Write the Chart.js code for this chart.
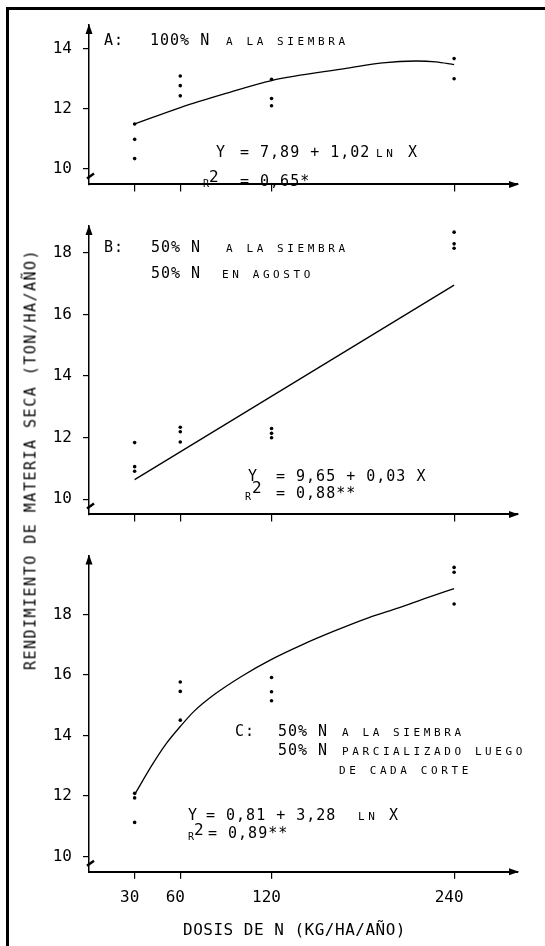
<!DOCTYPE html>
<html>
<head>
<meta charset="utf-8">
<script src="https://cdn.jsdelivr.net/npm/chart.js@4.4.1/dist/chart.umd.min.js"></script>
<style>
  body { margin:0; width:545px; height:946px; background:#fff; position:relative; overflow:hidden;
         font-family:"DejaVu Sans Mono", monospace; color:#000; }
  .frame { position:absolute; left:6px; top:7px; width:560px; height:960px;
           border-left:3px solid #000; border-top:3px solid #000; }
  .panel { position:absolute; left:0; width:545px; }
  .t { position:absolute; white-space:pre; font-size:15px; line-height:15px; letter-spacing:1px; }
  .s { position:absolute; white-space:pre; font-size:11px; line-height:11px; letter-spacing:3.6px; }
  .sup { position:absolute; font-size:16px; line-height:16px; }
  .r { position:absolute; font-size:10px; line-height:10px; }
  .xtitle { position:absolute; left:183px; top:922px; white-space:pre; font-size:16px; line-height:16px; letter-spacing:0.5px; }
  .ytitle { position:absolute; left:-189px; top:452px; width:440px; text-align:center; white-space:pre;
            font-size:15px; line-height:15px; letter-spacing:1.5px; transform:rotate(-90deg); }
</style>
</head>
<body>
<div class="frame"></div>

<div class="panel" style="top:0px"><canvas id="chartA" width="545" height="205"></canvas></div>
<div class="panel" style="top:205px"><canvas id="chartB" width="545" height="330"></canvas></div>
<div class="panel" style="top:535px"><canvas id="chartC" width="545" height="411"></canvas></div>

<!-- panel A notes -->
<div class="t" style="left:104px;top:33px">A:</div>
<div class="t" style="left:150px;top:33px">100% N</div>
<div class="s" style="left:226px;top:36px">A LA SIEMBRA</div>
<div class="t" style="left:216px;top:145px">Y</div>
<div class="t" style="left:240px;top:145px">= 7,89 + 1,02</div>
<div class="s" style="left:376px;top:148px">LN</div>
<div class="t" style="left:408px;top:145px">X</div>
<div class="r" style="left:203px;top:179px">R</div>
<div class="sup" style="left:209px;top:169px">2</div>
<div class="t" style="left:240px;top:174px">= 0,65*</div>

<!-- panel B notes -->
<div class="t" style="left:104px;top:240px">B:</div>
<div class="t" style="left:151px;top:240px">50% N</div>
<div class="s" style="left:226px;top:243px">A LA SIEMBRA</div>
<div class="t" style="left:151px;top:266px">50% N</div>
<div class="s" style="left:222px;top:269px">EN AGOSTO</div>
<div class="t" style="left:248px;top:469px">Y</div>
<div class="t" style="left:276px;top:469px">= 9,65 + 0,03 X</div>
<div class="r" style="left:245px;top:492px">R</div>
<div class="sup" style="left:252px;top:480px">2</div>
<div class="t" style="left:276px;top:486px">= 0,88**</div>

<!-- panel C notes -->
<div class="t" style="left:235px;top:724px">C:</div>
<div class="t" style="left:278px;top:724px">50% N</div>
<div class="s" style="left:342px;top:727px">A LA SIEMBRA</div>
<div class="t" style="left:278px;top:743px">50% N</div>
<div class="s" style="left:342px;top:746px">PARCIALIZADO LUEGO</div>
<div class="s" style="left:339px;top:765px">DE CADA CORTE</div>
<div class="t" style="left:188px;top:808px">Y</div>
<div class="t" style="left:206px;top:808px">= 0,81 + 3,28</div>
<div class="s" style="left:358px;top:811px">LN</div>
<div class="t" style="left:389px;top:808px">X</div>
<div class="r" style="left:188px;top:832px">R</div>
<div class="sup" style="left:194px;top:822px">2</div>
<div class="t" style="left:208px;top:826px">= 0,89**</div>

<div class="xtitle">DOSIS DE N (KG/HA/AÑO)</div>
<div class="ytitle">RENDIMIENTO DE MATERIA SECA (TON/HA/AÑO)</div>

<script>
// Dosis de N (kg/ha/año)
const doseTicks = [30, 60, 120, 240];
const yTicksA = [10, 12, 14];
const yTicksBC = [10, 12, 14, 16, 18];

// A: 100% N a la siembra
const obsDoseA = [30, 30, 30, 60, 60, 60, 120, 120, 120, 240, 240];
const obsYieldA = [11.48, 10.97, 10.33, 13.08, 12.76, 12.42, 12.97, 12.33, 12.09, 13.66, 12.99];
const fitDoseA = [30, 60, 90, 120, 170, 193, 215, 228, 240];
const fitYieldA = [11.48, 12.03, 12.5, 12.93, 13.34, 13.52, 13.58, 13.55, 13.46];

// B: 50% N a la siembra, 50% N en agosto
const obsDoseB = [30, 30, 30, 60, 60, 60, 120, 120, 120, 240, 240, 240];
const obsYieldB = [11.84, 11.06, 10.91, 12.34, 12.19, 11.86, 12.30, 12.14, 12.0, 18.67, 18.29, 18.15];
const fitDoseB = [30, 240];
const fitYieldB = [10.64, 16.95];

// C: 50% N a la siembra, 50% N parcializado luego de cada corte
const obsDoseC = [30, 30, 30, 60, 60, 60, 120, 120, 120, 240, 240, 240];
const obsYieldC = [12.09, 11.94, 11.13, 15.77, 15.46, 14.51, 15.92, 15.45, 15.15, 19.56, 19.40, 18.35];
const fitDoseC = [30, 42, 51, 60, 69, 83, 101, 120, 140, 161, 184, 204, 222, 240];
const fitYieldC = [12.05, 13.07, 13.75, 14.3, 14.8, 15.38, 15.98, 16.52, 17.0, 17.45, 17.9, 18.23, 18.55, 18.86];

Chart.defaults.font.family = '"DejaVu Sans Mono", monospace';
Chart.defaults.color = '#000';

// arrow heads on both axes and the little break mark at the origin
const axisArrows = {
    id: 'axisArrows',
    afterDraw(chart) {
        const { ctx, chartArea: { left, right, top, bottom } } = chart;
        ctx.save();
        ctx.fillStyle = '#000';
        ctx.beginPath();
        ctx.moveTo(left, top - 1);
        ctx.lineTo(left - 3.5, top + 9);
        ctx.lineTo(left + 3.5, top + 9);
        ctx.closePath();
        ctx.fill();
        ctx.beginPath();
        ctx.moveTo(right + 1, bottom);
        ctx.lineTo(right - 9, bottom - 3.5);
        ctx.lineTo(right - 9, bottom + 3.5);
        ctx.closePath();
        ctx.fill();
        ctx.strokeStyle = '#000';
        ctx.lineWidth = 2.5;
        ctx.beginPath();
        ctx.moveTo(left - 2, bottom - 6);
        ctx.lineTo(left + 5, bottom - 11);
        ctx.stroke();
        ctx.restore();
    }
};

function buildPanel(canvasId, obsX, obsY, fitX, fitY, yTicks, yMin, yMax, padTop, xHeight, showXLabels) {
    const points = obsX.map((x, i) => ({ x, y: obsY[i] }));
    const curve = fitX.map((x, i) => ({ x, y: fitY[i] }));

    return new Chart(document.getElementById(canvasId), {
        type: 'scatter',
        data: {
            datasets: [
                { data: points, pointRadius: 1.8, pointBackgroundColor: '#000', pointBorderWidth: 0 },
                { data: curve, showLine: true, pointRadius: 0, borderColor: '#000', borderWidth: 1.3,
                  cubicInterpolationMode: 'monotone' }
            ]
        },
        options: {
            responsive: false,
            animation: false,
            events: [],
            layout: { padding: { left: 0, right: 27, top: padTop, bottom: 0 } },
            plugins: { legend: { display: false }, tooltip: { enabled: false } },
            scales: {
                x: {
                    type: 'linear', min: 0, max: 282,
                    afterBuildTicks: s => { s.ticks = doseTicks.map(v => ({ value: v })); },
                    afterFit: s => { s.height = xHeight; },
                    grid: { drawOnChartArea: false, tickLength: 7, color: '#000', lineWidth: 1.2 },
                    border: { color: '#000', width: 2 },
                    ticks: { display: showXLabels, autoSkip: false, maxRotation: 0, padding: 10, labelOffset: -5,
                             font: { size: 16 } }
                },
                y: {
                    min: yMin, max: yMax,
                    afterBuildTicks: s => { s.ticks = yTicks.map(v => ({ value: v })); },
                    afterFit: s => { s.width = 89; },
                    grid: { drawOnChartArea: false, tickLength: 6, color: '#000', lineWidth: 1.2 },
                    border: { color: '#000', width: 1.5 },
                    ticks: { padding: 11, font: { size: 16 } }
                }
            }
        },
        plugins: [axisArrows]
    });
}

buildPanel('chartA', obsDoseA, obsYieldA, fitDoseA, fitYieldA, yTicksA, 9.47, 14.78, 25, 14, false);
buildPanel('chartB', obsDoseB, obsYieldB, fitDoseB, fitYieldB, yTicksBC, 9.51, 18.87, 21, 17.3, false);
buildPanel('chartC', obsDoseC, obsYieldC, fitDoseC, fitYieldC, yTicksBC, 9.5, 19.95, 10, 74.3, true);
</script>
</body>
</html>
